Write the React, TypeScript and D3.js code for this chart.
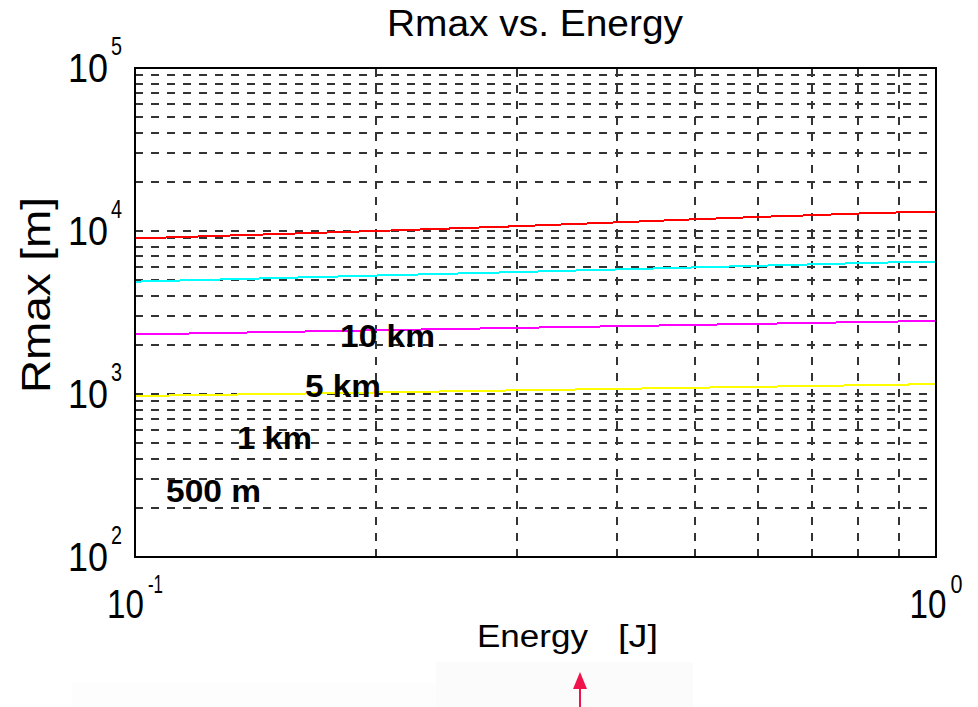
import React, { useEffect, useRef } from 'react'
import * as d3 from 'd3'

// energy samples [J] (log x axis, 0.1 .. 1)
const energy = [0.1, 0.2, 0.3, 0.4, 0.5, 0.6, 0.7, 0.8, 0.9, 1.0]

// Rmax [m], one array per curve
const rmaxRed = [9000, 10000, 10700, 11300, 11800, 12200, 12500, 12800, 13000, 13100]
const rmaxCyan = [4890, 5330, 5600, 5810, 5980, 6120, 6240, 6350, 6430, 6480]
const rmaxMagenta = [2320, 2460, 2545, 2605, 2655, 2695, 2730, 2760, 2785, 2805]
const rmaxYellow = [972, 1022, 1053, 1075, 1093, 1107, 1120, 1131, 1141, 1151]

// decade tick labels
const xTicks = [0.1, 1]
const yTicks = [1e2, 1e3, 1e4, 1e5]

// text
const titleText = 'Rmax vs. Energy'
const xLabel = ['Energy', '[J]']
const yLabel = 'Rmax [m]'
const notes = ['10 km', '5 km', '1 km', '500 m']

const W = 978
const H = 707
const FONT = '"Liberation Sans", Arial, Helvetica, sans-serif'

function Chart () {
  const ref = useRef<SVGSVGElement>(null)

  useEffect(() => {
    const svg = d3.select(ref.current)
    svg.selectAll('*').remove()

    const plot = { left: 135, top: 68, right: 936, bottom: 557 }

    const x = d3.scaleLog().domain([0.1, 1]).range([plot.left, plot.right])
    const y = d3.scaleLog().domain([1e2, 1e5]).range([plot.bottom, plot.top])

    svg.append('rect').attr('width', W).attr('height', H).attr('fill', '#fff')

    // faint boxes at the bottom of the screenshot
    svg.append('rect').attr('x', 72).attr('y', 682).attr('width', 365).attr('height', 25).attr('fill', '#fdfdfd')
    svg.append('rect').attr('x', 436).attr('y', 662).attr('width', 257).attr('height', 45).attr('fill', '#fbfbfb')

    // dashed grid, every log tick
    const grid = svg.append('g')
      .attr('stroke', '#333')
      .attr('stroke-width', 1.8)
      .attr('stroke-dasharray', '8,8')
      .attr('shape-rendering', 'crispEdges')

    grid.selectAll('.hgrid')
      .data(y.ticks().filter(v => v > 100.5 && v < 99999))
      .enter().append('line')
      .attr('x1', plot.left).attr('x2', plot.right)
      .attr('y1', d => Math.round(y(d))).attr('y2', d => Math.round(y(d)))

    grid.selectAll('.vgrid')
      .data(x.ticks().filter(v => v > 0.1001 && v < 0.999))
      .enter().append('line')
      .attr('x1', d => Math.round(x(d))).attr('x2', d => Math.round(x(d)))
      .attr('y1', plot.bottom).attr('y2', plot.top)

    // curves
    const series = [
      { values: rmaxRed, color: '#ff0000' },
      { values: rmaxCyan, color: '#00ffff' },
      { values: rmaxMagenta, color: '#ff00ff' },
      { values: rmaxYellow, color: '#ffff00' }
    ]
    const line = d3.line<number>()
      .x((d, i) => x(energy[i]))
      .y(d => y(d))

    svg.selectAll('.curve')
      .data(series)
      .enter().append('path')
      .attr('d', d => line(d.values))
      .attr('fill', 'none')
      .attr('stroke', d => d.color)
      .attr('stroke-width', 2)
      .attr('shape-rendering', 'crispEdges')

    // axes box
    svg.append('rect')
      .attr('x', plot.left).attr('y', plot.top)
      .attr('width', plot.right - plot.left).attr('height', plot.bottom - plot.top)
      .attr('fill', 'none').attr('stroke', '#000').attr('stroke-width', 2)

    const txt = svg.append('g').attr('font-family', FONT).attr('fill', '#000')

    // y tick labels: 10 with superscript exponent
    yTicks.forEach(v => {
      const ty = y(v)
      txt.append('text')
        .attr('x', 108).attr('y', ty + 14)
        .attr('text-anchor', 'end').attr('font-size', 40)
        .attr('textLength', 40).attr('lengthAdjust', 'spacingAndGlyphs')
        .text('10')
      txt.append('text')
        .attr('x', 111).attr('y', ty - 13)
        .attr('font-size', 25)
        .attr('textLength', 11).attr('lengthAdjust', 'spacingAndGlyphs')
        .text(String(Math.round(Math.log10(v))))
    })

    // x tick labels ("10" squeezed horizontally like the original)
    xTicks.forEach(v => {
      const exp = String(Math.round(Math.log10(v)))
      const expW = exp.length > 1 ? 15 : 12
      const total = 37 + 4 + expW
      const x0 = x(v) - total / 2
      txt.append('text')
        .attr('transform', `translate(${x0},618) scale(0.83,1)`)
        .attr('font-size', 40)
        .text('10')
      txt.append('text')
        .attr('x', x0 + 41).attr('y', 593)
        .attr('font-size', 25)
        .attr('textLength', expW).attr('lengthAdjust', 'spacingAndGlyphs')
        .text(exp)
    })

    // title and axis labels
    txt.append('text')
      .attr('x', 387).attr('y', 36).attr('font-size', 36)
      .attr('textLength', 296).attr('lengthAdjust', 'spacingAndGlyphs')
      .text(titleText)

    txt.append('text')
      .attr('x', 477).attr('y', 647).attr('font-size', 31)
      .attr('textLength', 111).attr('lengthAdjust', 'spacingAndGlyphs')
      .text(xLabel[0])
    txt.append('text')
      .attr('x', 618).attr('y', 647).attr('font-size', 31)
      .attr('textLength', 40).attr('lengthAdjust', 'spacingAndGlyphs')
      .text(xLabel[1])

    txt.append('text')
      .attr('transform', 'translate(50,295) rotate(-90)')
      .attr('text-anchor', 'middle').attr('font-size', 40)
      .attr('textLength', 196).attr('lengthAdjust', 'spacingAndGlyphs')
      .text(yLabel)

    // bold range notes inside the axes
    const notePos = [[340, 347, 95], [305, 397, 76], [237, 449, 75], [166, 502, 95]]
    notes.forEach((n, i) => {
      const [nx, ny, nw] = notePos[i]
      txt.append('text')
        .attr('x', nx).attr('y', ny)
        .attr('font-size', 32).attr('font-weight', 'bold')
        .attr('textLength', nw).attr('lengthAdjust', 'spacingAndGlyphs')
        .text(n)
    })

    // red arrow under the x label
    const arrow = svg.append('g').attr('fill', '#f0124a').attr('stroke', '#f0124a')
    arrow.append('line')
      .attr('x1', 580).attr('x2', 580).attr('y1', 707).attr('y2', 682)
      .attr('stroke-width', 2)
    arrow.append('path')
      .attr('d', 'M580,672 L573,689 L587,689 Z')
      .attr('stroke', 'none')
  }, [])

  return (
    <svg ref={ref} width={W} height={H} style={{ position: 'absolute', left: 0, top: 0 }} />
  )
}

export default function App () {
  return <Chart />
}
